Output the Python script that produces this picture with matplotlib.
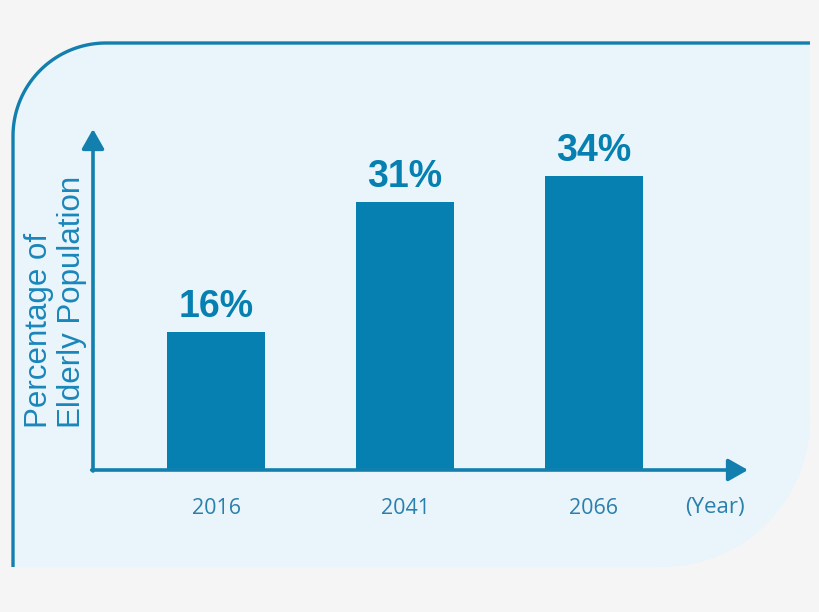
import numpy as np
import matplotlib
matplotlib.use("Agg")
import matplotlib.pyplot as plt
from matplotlib.patches import Polygon

years = ["2016", "2041", "2066"]
shares = [16, 31, 34]
bar_labels = ["16%", "31%", "34%"]
ylabel_lines = ["Percentage of", "Elderly Population"]
unit_label = "(Year)"

BG = "#f5f5f5"
PANEL = "#e9f4fb"
EDGE = "#137fae"
BAR = "#0580b0"
LABEL = "#1a86ba"
TICK = "#2a80ad"


def rounded_panel():
    # panel outline in pixel coords (y down): rounded top-left and bottom-right
    left, top, right, bottom = 13, 43, 810, 567
    r1, r2 = 93, 148
    t = np.linspace(0, np.pi / 2, 40)
    tl = np.c_[left + r1 - r1 * np.cos(t), top + r1 - r1 * np.sin(t)]
    br = np.c_[right - r2 + r2 * np.cos(t), bottom - r2 + r2 * np.sin(t)]
    fill = np.vstack([[left, bottom], tl, [right, top], br, [left, bottom]])
    edge = np.vstack([[left, bottom], tl, [right, top]])
    return fill, edge


def main():
    fig = plt.figure(figsize=(8.2, 6.12), dpi=100, facecolor=BG)

    bg = fig.add_axes([0, 0, 1, 1])
    bg.set_xlim(0, 820)
    bg.set_ylim(612, 0)
    bg.axis("off")
    fill, edge = rounded_panel()
    bg.add_patch(Polygon(fill, closed=True, facecolor=PANEL, edgecolor="none"))
    bg.plot(edge[:, 0], edge[:, 1], color=EDGE, lw=2.4, solid_capstyle="butt")

    # chart area: y axis at x=93, x axis at y=470, arrow tips at 748 / 129
    ax = fig.add_axes([93 / 820, (612 - 470) / 612, (748 - 93) / 820, (470 - 129) / 612])
    ax.patch.set_alpha(0)
    x = np.arange(len(years))
    ax.bar(x, shares, width=0.52, color=BAR)
    ax.set_xlim(-0.651, 2.815)
    ax.set_ylim(0, 39.4)
    for s in ax.spines.values():
        s.set_visible(False)
    ax.set_yticks([])
    ax.set_xticks(x, years)
    ax.tick_params(axis="x", length=0, pad=20, labelsize=15.5, labelcolor=TICK)
    for lab in ax.get_xticklabels():
        lab.set_fontfamily("Open Sans")
        lab.set_fontweight("medium")

    for xi, v, txt in zip(x, shares, bar_labels):
        ax.annotate(txt, (xi, v), xytext=(0, 5), textcoords="offset points",
                    ha="center", va="bottom", fontsize=27, fontweight="bold",
                    color=BAR, family="Liberation Sans")

    arrow = dict(arrowstyle="-|>,head_length=0.6,head_width=0.34", lw=2.6,
                 color=EDGE, shrinkA=0, shrinkB=0, mutation_scale=20)
    ax.annotate("", xy=(1, 0), xytext=(-0.002, 0), xycoords="axes fraction",
                arrowprops=arrow)
    ax.annotate("", xy=(0, 1), xytext=(0, -0.003), xycoords="axes fraction",
                arrowprops=arrow)

    ax.text((715 - 93) / 655, (470 - 508) / 341, unit_label, transform=ax.transAxes,
            ha="center", va="center", fontsize=16, color=TICK, family="Open Sans",
            fontweight="medium")

    for xp, line in zip([47, 80], ylabel_lines):
        fig.text(xp / 820, 1 - 428 / 612, line, rotation=90, rotation_mode="anchor",
                 ha="left", va="baseline", fontsize=22.5, color=LABEL,
                 family="Liberation Sans")

    fig.savefig("out.png", dpi=100, facecolor=BG)


if __name__ == "__main__":
    main()
